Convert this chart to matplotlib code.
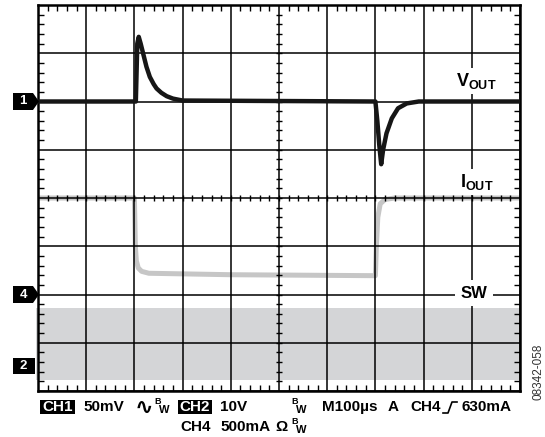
"""Scope capture: load-step transient (VOUT, IOUT, SW) redrawn on a 10 x 8 division graticule."""

import matplotlib

matplotlib.use("Agg")
import matplotlib.pyplot as plt
from matplotlib.lines import Line2D
from matplotlib.patches import Polygon, Rectangle
from matplotlib.ticker import MultipleLocator

W, H = 545, 437

# time in divisions (100 us/div), levels in divisions from screen centre
vout_t = [0.0, 2.03, 2.06, 2.09, 2.13, 2.18, 2.25, 2.32, 2.40, 2.46, 2.56, 2.67, 2.80, 3.00,
          7.00, 7.04, 7.08, 7.12, 7.16, 7.23, 7.34, 7.47, 7.65, 7.90, 10.0]
vout_v = [2.0, 2.0, 3.2, 3.34, 3.2, 3.0, 2.72, 2.51, 2.36, 2.27, 2.18, 2.11, 2.06, 2.02,
          2.0, 1.6, 1.1, 0.70, 1.0, 1.34, 1.65, 1.86, 1.96, 2.0, 2.0]

iout_t = [0.0, 2.0, 2.02, 2.04, 2.08, 2.15, 2.3, 4.0, 7.0, 7.02, 7.05, 7.1, 7.2, 7.4, 10.0]
iout_v = [0.0, 0.0, -1.0, -1.3, -1.45, -1.52, -1.56, -1.59, -1.61, -1.0, -0.4, -0.12, -0.03, 0.0, 0.0]

sw_t = [-0.04, 10.0]
sw_top = [-2.27, -2.27]
sw_bot = [-3.78, -3.78]

marker_names = ["1", "4", "2"]
marker_levels = [2.0, -2.0, -3.48]
marker_arrow = [True, True, False]

plt.rcParams["font.family"] = ["Liberation Sans", "DejaVu Sans"]
plt.rcParams["font.weight"] = "bold"
plt.rcParams["mathtext.fontset"] = "custom"
plt.rcParams["mathtext.rm"] = "Liberation Sans:bold"
plt.rcParams["mathtext.bf"] = "Liberation Sans:bold"


def fx(px):
	return px / W


def fy(py):
	return 1 - py / H


def level_px(level):
	return 198 - 48.25 * level


fig = plt.figure(figsize=(W / 100, H / 100), dpi=100)
ax = fig.add_axes([fx(38), fy(391), 482 / W, 386 / H])
ax.set_xlim(0, 10)
ax.set_ylim(-4, 4)

ax.fill_between(sw_t, sw_bot, sw_top, color="#d4d5d7", lw=0, zorder=1, clip_on=False)
ax.plot(iout_t, iout_v, color="#c6c6c6", lw=3.6, solid_capstyle="butt", zorder=2)
ax.plot(vout_t, vout_v, color="#161616", lw=3.2, solid_joinstyle="round", zorder=3)

# graticule
ax.xaxis.set_major_locator(MultipleLocator(1))
ax.yaxis.set_major_locator(MultipleLocator(1))
ax.xaxis.set_minor_locator(MultipleLocator(0.2))
ax.yaxis.set_minor_locator(MultipleLocator(0.2))
ax.set_axisbelow(False)
ax.grid(which="major", color="black", lw=1.1)
ax.tick_params(which="both", direction="in", top=True, right=True,
               labelbottom=False, labelleft=False)
ax.tick_params(which="major", length=0)
ax.tick_params(which="minor", length=4, width=1, color="black")
for s in ax.spines.values():
	s.set_linewidth(1.8)
minor = [i * 0.2 for i in range(-20, 51)]
ax.vlines([m for m in minor if 0 < m < 10], -0.07, 0.07, color="black", lw=1, zorder=2.6)
ax.hlines([m for m in minor if -4 < m < 4], 4.93, 5.07, color="black", lw=1, zorder=2.6)

# trace labels
white = dict(facecolor="white", edgecolor="none", pad=2)
fig.text(fx(476), fy(81), r"$\mathbf{V}_{\mathbf{OUT}}$", fontsize=13, ha="center", va="center", bbox=white)
fig.text(fx(477), fy(182), r"$\mathbf{I}_{\mathbf{OUT}}$", fontsize=13, ha="center", va="center", bbox=white)
fig.text(fx(474), fy(293), "SW", fontsize=12, ha="center", va="center",
         bbox=dict(facecolor="white", edgecolor="none", pad=4))

# channel markers on the left
for name, level, arrow in zip(marker_names, marker_levels, marker_arrow):
	yc = level_px(level)
	if arrow:
		pts = [(13, yc - 8.5), (33, yc - 8.5), (39, yc), (33, yc + 8.5), (13, yc + 8.5)]
	else:
		pts = [(13, yc - 8), (35, yc - 8), (35, yc + 8), (13, yc + 8)]
	fig.patches.append(Polygon([(fx(x), fy(y)) for x, y in pts], closed=True,
	                           facecolor="black", edgecolor="none", transform=fig.transFigure))
	fig.text(fx(23), fy(yc), name, color="white", fontsize=9.5, ha="center", va="center")

# settings readout under the screen
r1, r2 = 407, 427
for x0, x1, label in [(40, 75, "CH1"), (178, 212, "CH2")]:
	fig.patches.append(Rectangle((fx(x0), fy(r1 + 7)), (x1 - x0) / W, 14 / H,
	                             facecolor="black", edgecolor="none", transform=fig.transFigure))
	fig.text(fx((x0 + x1) / 2), fy(r1), label, color="white", fontsize=11, ha="center", va="center")

for x, y, label in [(83, r1, "50mV"), (220, r1, "10V"), (322, r1, "M100µs"), (388, r1, "A"),
                    (410, r1, "CH4"), (462, r1, "630mA"),
                    (180, r2, "CH4"), (220, r2, "500mA"), (275, r2, "Ω")]:
	fig.text(fx(x), fy(y), label, fontsize=11, ha="left", va="center")

fig.text(fx(135), fy(r1 + 1), "∿", fontsize=16, ha="left", va="center", family=["DejaVu Sans"])
for x, y in [(154, r1), (291, r1), (291, r2)]:
	fig.text(fx(x), fy(y - 5), "B", fontsize=6.5, ha="left", va="center")
	fig.text(fx(x + 5), fy(y + 3), "W", fontsize=8, ha="left", va="center")

fig.lines.append(Line2D([fx(443), fx(448), fx(452), fx(457)], [fy(413), fy(413), fy(402), fy(402)],
                        color="black", lw=1.2, transform=fig.transFigure))

fig.text(fx(539), fy(372), "08342-058", fontsize=8.5, rotation=90, ha="center", va="center",
         color="#333333", weight="normal")

fig.savefig("out.png", dpi=100)
